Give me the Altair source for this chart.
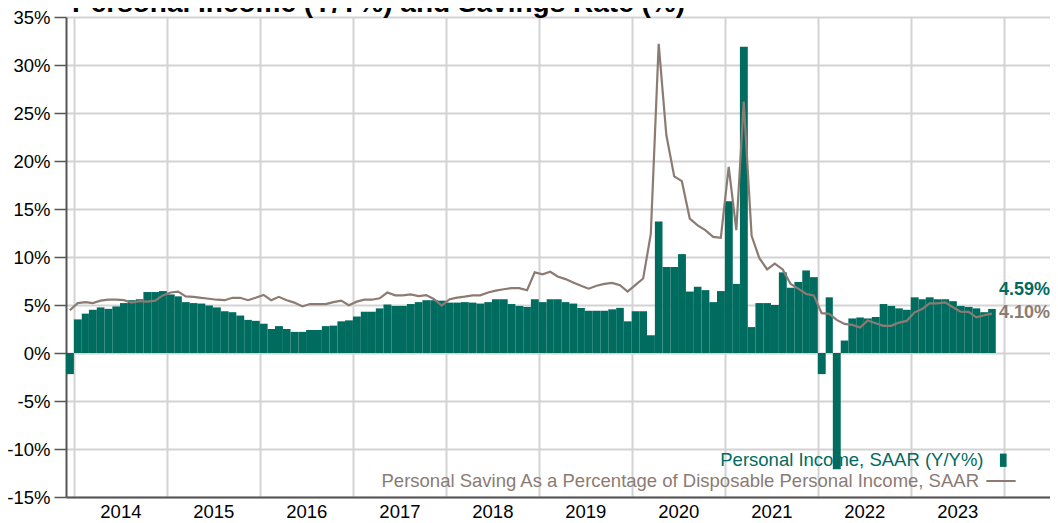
import altair as alt
import pandas as pd

TITLE = "Personal Income (Y/Y%) and Savings Rate (%)"
INCOME_LABEL = "Personal Income, SAAR (Y/Y%)"
SAVING_LABEL = "Personal Saving As a Percentage of Disposable Personal Income, SAAR"

# monthly data, Dec 2013 .. Nov 2023
first_month = "2013-12-01"
income_yoy = [
    -2.2,
    3.5, 4.1, 4.5, 4.75, 4.6, 4.85, 5.2, 5.5, 5.6, 6.35, 6.35, 6.45,
    6.1, 5.9, 5.3, 5.2, 5.15, 4.95, 4.75, 4.35, 4.25, 3.9, 3.45, 3.35,
    3.05, 2.5, 2.8, 2.5, 2.2, 2.2, 2.4, 2.4, 2.8, 2.85, 3.3, 3.4,
    3.8, 4.3, 4.3, 4.65, 5.05, 4.9, 4.9, 5.1, 5.3, 5.5, 5.5, 5.45,
    5.25, 5.25, 5.3, 5.25, 5.15, 5.3, 5.6, 5.6, 5.1, 4.9, 4.8, 5.6,
    5.3, 5.6, 5.6, 5.3, 5.15, 4.7, 4.4, 4.4, 4.4, 4.55, 4.7, 3.3,
    4.35, 4.35, 1.85, 13.7, 8.95, 8.95, 10.3, 6.4, 6.9, 6.55, 5.3, 6.45,
    15.8, 7.2, 31.9, 2.7, 5.2, 5.2, 5.0, 8.4, 6.8, 7.4, 8.6, 7.9,
    -2.2, 5.8, -12.1, 1.3, 3.6, 3.7, 3.6, 3.75, 5.1, 4.9, 4.65, 4.5,
    5.8, 5.6, 5.8, 5.6, 5.6, 5.4, 4.9, 4.8, 4.65, 4.25, 4.59,
]
saving_rate = [
    4.45,
    5.2, 5.3, 5.2, 5.45, 5.55, 5.55, 5.5, 5.25, 5.4, 5.35, 5.45, 6.0,
    6.3, 6.4, 5.9, 5.85, 5.75, 5.65, 5.55, 5.5, 5.75, 5.75, 5.5, 5.75,
    6.05, 5.5, 5.85, 5.5, 5.25, 4.85, 5.1, 5.1, 5.1, 5.3, 5.45, 4.97,
    5.35, 5.55, 5.55, 5.7, 6.3, 6.0, 6.0, 6.1, 5.93, 6.03, 5.6, 4.95,
    5.6, 5.77, 5.87, 6.0, 6.0, 6.3, 6.5, 6.64, 6.75, 6.75, 6.54, 8.4,
    8.2, 8.46, 7.97, 7.7, 7.34, 7.0, 6.7, 7.0, 7.2, 7.3, 7.06, 6.4,
    7.1, 7.76, 12.4, 32.2, 22.7, 18.4, 17.9, 14.0, 13.3, 12.8, 12.1, 12.0,
    19.4, 12.8, 26.2, 12.2, 9.9, 8.7, 9.3, 8.7, 7.2, 6.7, 6.15, 6.0,
    4.15, 4.07, 3.45, 3.03, 2.93, 2.66, 3.38, 3.1, 2.83, 2.83, 3.17, 3.34,
    4.24, 4.59, 5.17, 5.17, 5.28, 4.76, 4.31, 4.28, 3.72, 3.93, 4.10,
]
year_ticks = list(range(2014, 2025))
y_ticks = [-15, -10, -5, 0, 5, 10, 15, 20, 25, 30, 35]

TEAL = "#006B5F"
BROWN = "#8C7B72"
AXIS_DARK = "#555555"
GRID = "#D3D3D3"
FONT = "Liberation Sans"
FMT = "%Y-%m-%dT00:00:00"

months = pd.date_range(first_month, periods=len(income_yoy), freq="MS")
nxt = months + pd.offsets.MonthBegin(1)
mid = months + (nxt - months) / 2
df = pd.DataFrame({
    "start": months.strftime(FMT),
    "end": nxt.strftime(FMT),
    "mid": mid.strftime(FMT),
    "income": income_yoy,
    "saving": saving_rate,
    "s1": INCOME_LABEL,
    "s2": SAVING_LABEL,
})
last = df.tail(1).copy()
last["lab1"] = last["income"].map(lambda v: f"{v:.2f}%")
last["lab2"] = last["saving"].map(lambda v: f"{v:.2f}%")

xscale = alt.Scale(domain=[alt.DateTime(year=2013, month=12, date=1),
                           alt.DateTime(year=2024, month=7, date=1)])
yscale = alt.Scale(domain=[-15, 35], nice=False, zero=False)

xaxis = alt.Axis(
    values=[alt.DateTime(year=y, month=1, date=1) for y in year_ticks],
    labelExpr="year(datum.value) > 2023 ? '' : timeFormat(datum.value, '%Y')",
    title=None, domain=True, domainColor=AXIS_DARK, domainWidth=2,
    ticks=False, grid=True, gridColor=GRID, gridWidth=2,
    labelOffset=46.5, labelPadding=5, labelFontSize=18.5, labelColor="black",
    labelOverlap=False, labelBound=False, labelFlush=False, labelFont=FONT,
)
yaxis = alt.Axis(
    values=y_ticks, labelExpr="datum.value + '%'", title=None,
    domain=True, domainColor=AXIS_DARK, domainWidth=2,
    ticks=True, tickSize=12, tickColor=AXIS_DARK, tickWidth=1.5,
    grid=True, gridColor=GRID, gridWidth=2,
    labelFontSize=18.5, labelColor="black", labelPadding=4, labelFont=FONT,
)

X = lambda f: alt.X(f, scale=xscale, axis=xaxis)
Y = lambda f: alt.Y(f, scale=yscale, axis=yaxis)

bars = alt.Chart(df).mark_rect().encode(
    x=X("start:T"), x2="end:T",
    y=Y("income:Q"), y2=alt.datum(0),
    fill=alt.Fill("s1:N", scale=alt.Scale(range=[TEAL]), legend=alt.Legend(
        orient="none", legendX=928, legendY=434, title=None, padding=0,
        symbolType="M-0.5,-1L0.5,-1L0.5,1L-0.5,1Z", symbolSize=177,
        symbolStrokeWidth=0, symbolOpacity=1,
        labelAlign="right", labelOffset={"expr": "-29"}, labelBaseline="middle",
        labelFontSize=18.5, labelColor=TEAL, labelLimit=1000, labelFont=FONT,
    )),
)

line = alt.Chart(df).mark_line(strokeWidth=2.2).encode(
    x=X("mid:T"), y=Y("saving:Q"),
    stroke=alt.Stroke("s2:N", scale=alt.Scale(range=[BROWN]), legend=alt.Legend(
        orient="none", legendX=919, legendY=448, title=None, padding=0,
        symbolType="stroke", symbolSize=858, symbolStrokeWidth=2,
        labelAlign="right", labelOffset={"expr": "-38"}, labelBaseline="middle",
        labelFontSize=18.5, labelColor=BROWN, labelLimit=1000, labelFont=FONT,
    )),
)

lab1 = alt.Chart(last).mark_text(
    align="left", baseline="middle", dx=7, dy=-19, fontSize=18,
    fontWeight="bold", color=TEAL, font=FONT,
).encode(x=X("mid:T"), y=Y("income:Q"), text="lab1:N")

lab2 = alt.Chart(last).mark_text(
    align="left", baseline="middle", dx=7, dy=-0.5, fontSize=18,
    fontWeight="bold", color=BROWN, font=FONT,
).encode(x=X("mid:T"), y=Y("saving:Q"), text="lab2:N")

chart = alt.layer(bars, line, lab1, lab2).properties(
    width=984, height=480,
    padding={"left": 58, "top": 9, "right": 0, "bottom": 24},
    autosize=alt.AutoSizeParams(type="none"),
    title=alt.TitleParams(TITLE, anchor="start", frame="group", fontSize=28,
                          fontWeight="bold", color="black", font=FONT,
                          dx=6, dy=14),
    background="white",
).configure_view(stroke=None)

chart.save("out.html", embed_options={"renderer": "svg", "actions": False})
